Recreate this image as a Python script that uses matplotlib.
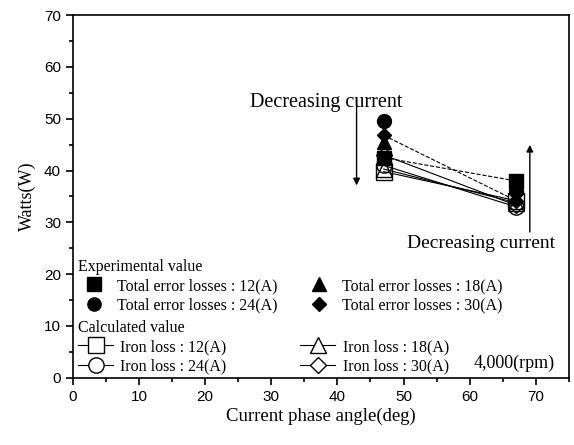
import matplotlib

matplotlib.use("Agg")
import matplotlib.pyplot as plt
from matplotlib.ticker import MultipleLocator

# phase angle (deg) at which each series was measured / calculated
angles = [47, 67]
currents = ["12(A)", "18(A)", "24(A)", "30(A)"]
markers = ["s", "^", "o", "D"]

# experimental total error losses (W)
exp_12 = [42.5, 38.0]
exp_18 = [45.5, 36.8]
exp_24 = [49.5, 36.0]
exp_30 = [46.8, 34.2]
exp_styles = ["--", "none", "none", "--"]

# calculated iron loss (W)
calc_12 = [39.8, 34.2]
calc_18 = [40.3, 33.8]
calc_24 = [41.0, 33.0]
calc_30 = [43.0, 33.3]

SERIF = ["Liberation Serif", "DejaVu Serif"]
SANS = ["Liberation Sans", "DejaVu Sans"]

plt.rcParams.update({"font.family": SANS, "font.size": 11})

fig = plt.figure(figsize=(5.74, 4.45), dpi=100)
ax = fig.add_axes([0.127, 0.151, 0.864, 0.815])

exp_handles = []
for vals, mk, cur, ls in zip([exp_12, exp_18, exp_24, exp_30], markers, currents, exp_styles):
    ax.plot(angles, vals, linestyle=ls, color="black", linewidth=0.8, marker=mk,
            markersize=10 if mk != "D" else 7.5, markerfacecolor="black", markeredgecolor="black", zorder=3)
    (h,) = ax.plot([], [], linestyle="none", marker=mk, markersize=9.5 if mk != "D" else 7,
                   color="black", label=f"Total error losses : {cur}")
    exp_handles.append(h)

calc_handles = []
for vals, mk, cur in zip([calc_12, calc_18, calc_24, calc_30], markers, currents):
    ax.plot(angles, vals, linestyle="-", color="black", linewidth=0.8, marker=mk,
            markersize=11 if mk != "D" else 8, markerfacecolor="none", markeredgecolor="black", zorder=2)
    (h,) = ax.plot([], [], linestyle="-", color="black", linewidth=0.8, marker=mk,
                   markersize=11 if mk != "D" else 8, markerfacecolor="white",
                   markeredgecolor="black", label=f"Iron loss : {cur}")
    calc_handles.append(h)

leg_font = {"family": SERIF, "size": 11.5}

# legend order: 12, 24 | 18, 30 in two columns
order = [0, 2, 1, 3]
leg1 = ax.legend([exp_handles[i] for i in order], [exp_handles[i].get_label() for i in order],
                 title="Experimental value", ncol=2, frameon=False, loc="upper left",
                 bbox_to_anchor=(-0.012, 0.359), alignment="left", handlelength=2.0,
                 handletextpad=0.45, columnspacing=1.6, labelspacing=0.2, borderpad=0.2,
                 prop=leg_font, title_fontproperties=leg_font)
ax.add_artist(leg1)
ax.legend([calc_handles[i] for i in order], [calc_handles[i].get_label() for i in order],
          title="Calculated value", ncol=2, frameon=False, loc="upper left",
          bbox_to_anchor=(-0.012, 0.191), alignment="left", handlelength=2.2,
          handletextpad=0.45, columnspacing=4.6, labelspacing=0.2, borderpad=0.2,
          prop=leg_font, title_fontproperties=leg_font)

# annotations
ax.annotate("", xy=(42.9, 36.6), xytext=(42.9, 54.6),
            arrowprops=dict(arrowstyle="-|>", color="black", lw=1.0, mutation_scale=10))
ax.text(38.3, 53.2, "Decreasing current", family=SERIF, fontsize=14.5, ha="center", va="center")
ax.annotate("", xy=(69.1, 45.5), xytext=(69.1, 27.6),
            arrowprops=dict(arrowstyle="-|>", color="black", lw=1.0, mutation_scale=10))
ax.text(61.8, 25.9, "Decreasing current", family=SERIF, fontsize=14, ha="center", va="center")
ax.text(72.8, 2.8, "4,000(rpm)", family=SERIF, fontsize=13, ha="right", va="center")

ax.set_xlim(0, 75)
ax.set_ylim(0, 70)
ax.xaxis.set_major_locator(MultipleLocator(10))
ax.xaxis.set_minor_locator(MultipleLocator(5))
ax.yaxis.set_major_locator(MultipleLocator(10))
ax.yaxis.set_minor_locator(MultipleLocator(5))
ax.tick_params(which="both", direction="out", top=False, right=False, width=1.2)
ax.tick_params(which="major", length=5)
ax.tick_params(which="minor", length=3)
for s in ax.spines.values():
    s.set_linewidth(1.2)

ax.set_xlabel("Current phase angle(deg)", family=SERIF, fontsize=13.5, labelpad=3)
ax.set_ylabel("Watts(W)", family=SERIF, fontsize=13, labelpad=6)

fig.savefig("out.png", dpi=100)
